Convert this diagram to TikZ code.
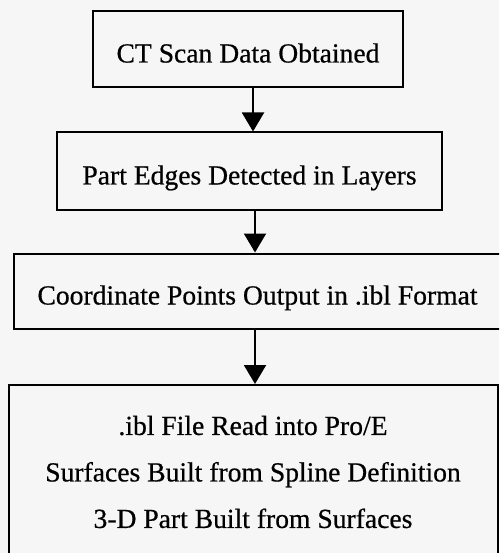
\documentclass[tikz,border=0pt]{standalone}
\usepackage{fontspec}
\setmainfont[FakeBold=0.6]{Liberation Serif}
\usepackage{tikz}
\usetikzlibrary{arrows.meta}
\definecolor{paper}{RGB}{246,246,246}

\begin{document}
\begin{tikzpicture}[x=1pt,y=-1pt,
        stage/.style={draw=black,line width=2pt,fill=paper,inner sep=0pt,align=center,font=\fontsize{27.6}{46.5}\selectfont},
        oneline/.style={stage,text height=27pt,text depth=0pt},
        flow/.style={line width=2pt,-{Triangle[width=22pt,length=19pt]}}]
        \useasboundingbox[fill=paper] (0,0) rectangle (499,553);
        \clip (0,0) rectangle (499,553);

        \node[oneline,minimum width=310pt,minimum height=76pt] (scan) at (248,49) {CT Scan Data Obtained};
        \node[oneline,minimum width=385pt,minimum height=77pt] (edges) at (249.5,171) {Part Edges Detected in Layers};
        \node[oneline,minimum width=487pt,minimum height=75pt] (points) at (257.5,291) {Coordinate Points Output in .ibl Format};
        \node[stage,minimum width=489pt,minimum height=174pt] (proe) at (253,472) {.ibl File Read into Pro/E\\Surfaces Built from Spline Definition\\3-D Part Built from Surfaces};

        \draw[flow] ([xshift=5pt]scan.south) -- ([xshift=5pt]scan.south |- edges.north);
        \draw[flow] ([xshift=5.5pt]edges.south) -- ([xshift=5.5pt]edges.south |- points.north);
        \draw[flow] ([xshift=-2.5pt]points.south) -- ([xshift=-2.5pt]points.south |- proe.north);
\end{tikzpicture}
\end{document}
